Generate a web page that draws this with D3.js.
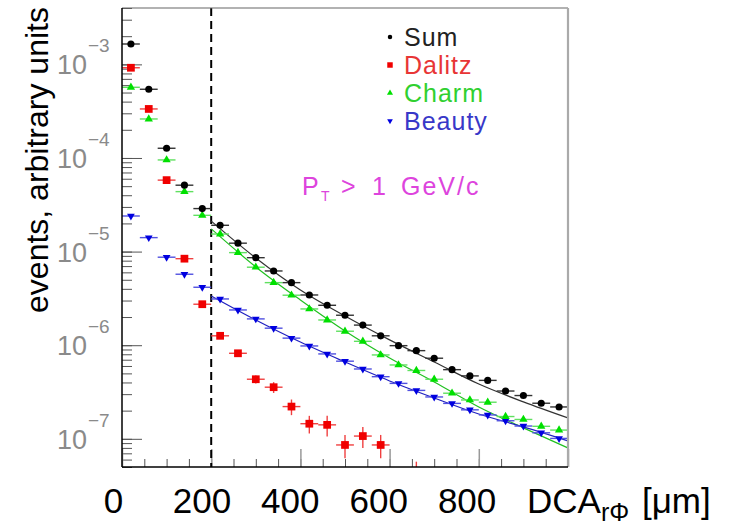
<!DOCTYPE html>
<html>
<head>
<meta charset="utf-8">
<script src="https://cdn.jsdelivr.net/npm/d3@7"></script>
<style>
  html, body { margin: 0; padding: 0; background: #fff; }
  svg { display: block; }
  text { font-family: "Liberation Sans", Arial, Helvetica, sans-serif; }
</style>
</head>
<body>
<svg id="chart" width="731" height="525"></svg>
<script>
// DCA bin centres in µm (40 µm wide bins)
const dcaBins = [20, 60, 100, 140, 180, 220, 260, 300, 340, 380, 420, 460, 500,
                 540, 580, 620, 660, 700, 740, 780, 820, 860, 900, 940, 980];
const binHalfWidth = 20;

// electron yields per bin, arbitrary units
const sumVals = [1.65e-3, 5.42e-4, 1.27e-4, 5.12e-5, 2.88e-5, 1.91e-5, 1.23e-5, 8.61e-6,
                 6.21e-6, 4.66e-6, 3.44e-6, 2.67e-6, 2.09e-6, 1.64e-6, 1.26e-6, 9.89e-7,
                 8.75e-7, 7.26e-7, 5.48e-7, 4.70e-7, 4.21e-7, 3.24e-7, 2.90e-7, 2.40e-7, 2.19e-7];
const dalitzVals = [9.2e-4, 3.34e-4, 5.8e-5, 8.4e-6, 2.74e-6, 1.26e-6, 8.2e-7, 4.33e-7,
                    3.56e-7, 2.21e-7, 1.45e-7, 1.41e-7, 8.6e-8, 1.07e-7, 8.6e-8, null,
                    4.2e-8, null, null, null, null, null, null, null, null];
const dalitzErr = [0, 0, 0, 0, 0, 6e-8, 5e-8, 4.3e-8, 4.7e-8, 4.2e-8, 3.1e-8, 3.5e-8,
                   2.4e-8, 2.7e-8, 2.4e-8, 0, 1.5e-8, 0, 0, 0, 0, 0, 0, 0, 0];
const charmVals = [5.69e-4, 2.61e-4, 9.53e-5, 4.37e-5, 2.44e-5, 1.54e-5, 9.75e-6, 6.81e-6,
                   4.66e-6, 3.42e-6, 2.44e-6, 1.86e-6, 1.41e-6, 1.10e-6, 7.87e-7, 6.15e-7,
                   5.37e-7, 4.33e-7, 3.07e-7, 2.60e-7, 2.46e-7, 1.73e-7, 1.61e-7, 1.36e-7, 1.24e-7];
const beautyVals = [2.40e-5, 1.41e-5, 8.71e-6, 5.73e-6, 4.16e-6, 3.12e-6, 2.38e-6, 1.91e-6,
                    1.52e-6, 1.19e-6, 9.82e-7, 8.07e-7, 6.75e-7, 5.57e-7, 4.61e-7, 3.91e-7,
                    3.29e-7, 2.80e-7, 2.39e-7, 2.04e-7, 1.80e-7, 1.56e-7, 1.37e-7, 1.16e-7, 1.01e-7];

// fitted curves above the DCA cut
const fitDca = [200, 300, 400, 500, 600, 700, 800, 900, 1000];
const sumFit = [2.12e-5, 8.55e-6, 3.89e-6, 2.05e-6, 1.14e-6, 6.62e-7, 3.85e-7, 2.48e-7, 1.67e-7];
const charmFit = [1.75e-5, 6.86e-6, 3.04e-6, 1.42e-6, 7.31e-7, 4.05e-7, 2.19e-7, 1.31e-7, 7.98e-8];
const beautyFit = [3.36e-6, 1.86e-6, 1.08e-6, 6.62e-7, 4.15e-7, 2.73e-7, 1.84e-7, 1.34e-7, 9.48e-8];

const dcaCut = 200;
const xLabels = [0, 200, 400, 600, 800];
const decades = [1e-7, 1e-6, 1e-5, 1e-4, 1e-3];
const seriesNames = ["Sum", "Dalitz", "Charm", "Beauty"];

const svg = d3.select("#chart");
const L = 122, R = 568, T = 8, B = 467;

const x = d3.scaleLinear().domain([0, 1000]).range([L, R]);
const y = d3.scaleLog().domain([5e-8, 4e-3]).range([B, T]);

svg.append("defs").append("clipPath").attr("id", "plotArea")
  .append("rect").attr("x", L).attr("y", T).attr("width", R - L).attr("height", B - T);

// ---- axis ticks (drawn inside the frame) ----
const yMinor = svg.append("g").attr("transform", `translate(${L},0)`)
  .call(d3.axisRight(y).tickValues(y.ticks()).tickSize(10).tickFormat(""));
const yMajor = svg.append("g").attr("transform", `translate(${L},0)`)
  .call(d3.axisRight(y).tickValues(decades).tickSize(20).tickFormat(""));
const xMinor = svg.append("g").attr("transform", `translate(0,${B})`)
  .call(d3.axisTop(x).tickValues(d3.range(0, 1001, 50)).tickSize(8).tickFormat(""));
const xMajor = svg.append("g").attr("transform", `translate(0,${B})`)
  .call(d3.axisTop(x).tickValues(d3.range(0, 1001, 200)).tickSize(18).tickFormat(""));
[yMinor, yMajor, xMinor, xMajor].forEach(g => {
  g.select(".domain").remove();
  g.selectAll("line").attr("stroke", "#555").attr("stroke-width", 1);
});
xMajor.selectAll("line").attr("stroke", "#999").attr("stroke-width", 1.5);

// ---- y tick labels: 10 with exponent ----
const yLab = svg.append("g").attr("fill", "#8a8a8a");
decades.forEach(d => {
  const yy = y(d);
  const e = Math.round(Math.log10(d));
  yLab.append("text").attr("x", 87).attr("y", yy + 10)
    .attr("text-anchor", "end").attr("font-size", 27).text("10");
  yLab.append("text").attr("x", 88).attr("y", yy - 12)
    .attr("font-size", 19).text("\u2212" + Math.abs(e));
});

// ---- x tick numbers under the frame, on their own slightly narrower scale ----
const xLabelScale = d3.scaleLinear().domain([0, 1000]).range([113, 555]);
const xLab = svg.append("g").attr("transform", `translate(0,513)`)
  .call(d3.axisBottom(xLabelScale).tickValues(xLabels).tickSize(0).tickFormat(d3.format("d")));
xLab.select(".domain").remove();
xLab.selectAll("text").attr("y", 0).attr("dy", 0)
  .attr("font-size", 35).attr("fill", "#000")
  .attr("font-family", "'Liberation Sans', Arial, sans-serif");

// x axis title
const xt = svg.append("text").attr("x", 527).attr("y", 513).attr("font-size", 35).attr("fill", "#000")
  .attr("xml:space", "preserve");
xt.append("tspan").text("DCA");
xt.append("tspan").attr("font-size", 25).attr("dy", 8).text("r\u03A6");
xt.append("tspan").attr("dy", -8).attr("dx", 3).text(" [\u03BCm]");

// y axis title
svg.append("text")
  .attr("transform", "translate(48,160) rotate(-90)")
  .attr("text-anchor", "middle").attr("font-size", 32).attr("fill", "#000")
  .text("events, arbitrary units");

// ---- data ----
const plot = svg.append("g").attr("clip-path", "url(#plotArea)");

// DCA cut
plot.append("line")
  .attr("x1", x(dcaCut)).attr("x2", x(dcaCut)).attr("y1", T).attr("y2", B)
  .attr("stroke", "#000").attr("stroke-width", 2).attr("stroke-dasharray", "8,5");

const line = d3.line().x((d, i) => x(fitDca[i])).y(d => y(d)).curve(d3.curveMonotoneX);

const series = [
  { name: "Sum",    vals: sumVals,    err: null,      color: "#000000", bar: "#333333", sym: d3.symbolCircle,   size: 40, rot: 0,   fit: sumFit,    fitColor: "#333333" },
  { name: "Dalitz", vals: dalitzVals, err: dalitzErr, color: "#f00000", bar: "#f04040", sym: d3.symbolSquare,   size: 60, rot: 0,   fit: null },
  { name: "Charm",  vals: charmVals,  err: null,      color: "#00e000", bar: "#60e060", sym: d3.symbolTriangle, size: 30, rot: 0,   fit: charmFit,  fitColor: "#20c020" },
  { name: "Beauty", vals: beautyVals, err: null,      color: "#0000e0", bar: "#5050e0", sym: d3.symbolTriangle, size: 26, rot: 180, fit: beautyFit, fitColor: "#2020c0" }
];

// fit curves
series.filter(s => s.fit).forEach(s => {
  plot.append("path").datum(s.fit).attr("d", line)
    .attr("fill", "none").attr("stroke", s.fitColor).attr("stroke-width", 1.2);
});

// error bars and markers; Sum last so it sits on top
[series[3], series[2], series[1], series[0]].forEach(s => {
  const pts = dcaBins.map((c, i) => ({ c, v: s.vals[i], e: s.err ? s.err[i] : 0 }))
    .filter(p => p.v != null);
  const g = plot.append("g");
  g.selectAll("line.h").data(pts).join("line")
    .attr("x1", p => x(p.c - binHalfWidth)).attr("x2", p => x(p.c + binHalfWidth))
    .attr("y1", p => y(p.v)).attr("y2", p => y(p.v))
    .attr("stroke", s.bar).attr("stroke-width", 1.4);
  g.selectAll("line.v").data(pts.filter(p => p.e > 0)).join("line")
    .attr("x1", p => x(p.c)).attr("x2", p => x(p.c))
    .attr("y1", p => y(p.v + p.e)).attr("y2", p => y(Math.max(p.v - p.e, 1e-9)))
    .attr("stroke", s.bar).attr("stroke-width", 1.4);
  g.selectAll("path").data(pts).join("path")
    .attr("d", d3.symbol(s.sym, s.size))
    .attr("transform", p => `translate(${x(p.c)},${y(p.v)}) rotate(${s.rot})`)
    .attr("fill", s.color);
});

// ---- frame ----
svg.append("line").attr("x1", L).attr("x2", R).attr("y1", T).attr("y2", T)
  .attr("stroke", "#666").attr("stroke-width", 1.2);
svg.append("line").attr("x1", R).attr("x2", R).attr("y1", T).attr("y2", B)
  .attr("stroke", "#aaa").attr("stroke-width", 2.2);
svg.append("line").attr("x1", L).attr("x2", L).attr("y1", T).attr("y2", B)
  .attr("stroke", "#000").attr("stroke-width", 1.5);
svg.append("line").attr("x1", L).attr("x2", R).attr("y1", B).attr("y2", B)
  .attr("stroke", "#000").attr("stroke-width", 1.5);

// ---- legend ----
const legendText = ["#222222", "#e83535", "#30d030", "#3838c8"];
const legendSize = [16, 30, 16, 14];
const leg = svg.append("g");
series.forEach((s, i) => {
  const base = 46 + 28 * i;
  leg.append("path").attr("d", d3.symbol(s.sym, legendSize[i]))
    .attr("transform", `translate(390,${base - 9}) rotate(${s.rot})`)
    .attr("fill", s.color);
  leg.append("text").attr("x", 404).attr("y", base)
    .attr("font-size", 25).attr("letter-spacing", 1)
    .attr("fill", legendText[i]).text(seriesNames[i]);
});

// transverse momentum cut
const pt = svg.append("g").attr("fill", "#dd44dd").attr("font-size", 25);
pt.append("text").attr("x", 302).attr("y", 195).text("P");
pt.append("text").attr("x", 321).attr("y", 201).attr("font-size", 14).text("T");
pt.append("text").attr("x", 341).attr("y", 195).text(">");
pt.append("text").attr("x", 372).attr("y", 195).text("1");
pt.append("text").attr("x", 401).attr("y", 195).attr("letter-spacing", 2).text("GeV/c");
</script>
</body>
</html>
